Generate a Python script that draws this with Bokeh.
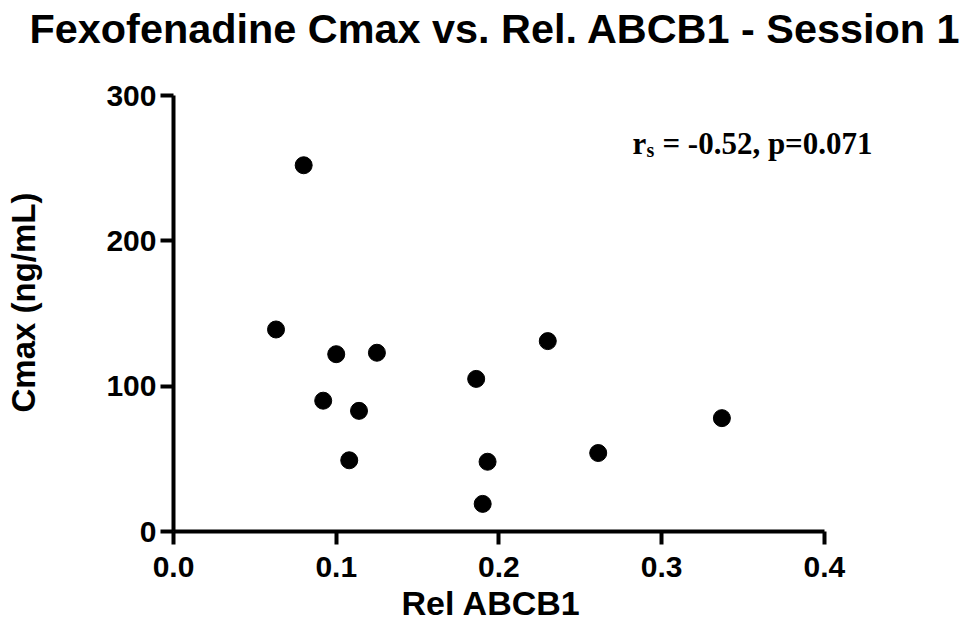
from bokeh.plotting import figure
from bokeh.models import Range1d, FixedTicker, PrintfTickFormatter, Label, Title
from bokeh.embed import file_html
from bokeh.resources import INLINE

# Data
rel_abcb1 = [0.063, 0.080, 0.100, 0.092, 0.114, 0.108, 0.125, 0.186, 0.193, 0.190, 0.230, 0.261, 0.337]
cmax = [139, 252, 122, 90, 83, 49, 123, 105, 48, 19, 131, 54, 78]

x_ticks = [0.0, 0.1, 0.2, 0.3, 0.4]
y_ticks = [0, 100, 200, 300]

title_text = "Fexofenadine Cmax vs. Rel. ABCB1 - Session 1"
x_label = "Rel ABCB1"
y_label = "Cmax (ng/mL)"
stat_r = "r"
stat_sub = "s"
stat_rest = "= -0.52, p=0.071"

p = figure(width=967, height=631, output_backend="svg", toolbar_location=None,
           x_range=Range1d(0, 0.44), y_range=Range1d(0, 300),
           min_border_left=173, min_border_right=78, min_border_top=95, min_border_bottom=100)

# spacer between title and plot area
p.add_layout(Title(text=" ", text_font_size="10px", standoff=31), "above")

p.title.text = title_text
p.title.text_font = "Liberation Sans"
p.title.text_font_style = "bold"
p.title.text_font_size = "41.4px"
p.title.text_color = "black"
p.title.align = "left"
p.title.offset = -144
p.title.standoff = 0

p.outline_line_color = None
p.xgrid.visible = False
p.ygrid.visible = False
p.background_fill_color = "white"
p.border_fill_color = "white"

for ax in (p.xaxis[0], p.yaxis[0]):
    ax.axis_line_width = 4
    ax.axis_line_color = "black"
    ax.major_tick_line_width = 4
    ax.major_tick_line_color = "black"
    ax.major_tick_out = 13
    ax.major_tick_in = 0
    ax.minor_tick_line_color = None
    ax.major_label_text_font = "Liberation Sans"
    ax.major_label_text_font_style = "bold"
    ax.major_label_text_font_size = "30px"
    ax.major_label_text_color = "black"

p.xaxis[0].ticker = FixedTicker(ticks=x_ticks)
p.xaxis[0].formatter = PrintfTickFormatter(format="%.1f")
p.xaxis[0].bounds = (0, 0.4)
p.xaxis[0].major_label_standoff = 12

p.yaxis[0].ticker = FixedTicker(ticks=y_ticks)
p.yaxis[0].major_label_standoff = 4

# axis titles, positioned along the axis with an offset
label_style = dict(text_font="Liberation Sans", text_font_style="bold", text_color="black")
p.add_layout(Title(text=x_label, text_font_size="34px", align="left", offset=228,
                   vertical_align="top", standoff=8, **label_style), "below")
p.add_layout(Title(text=" ", text_font_size="10px", standoff=49), "left")
p.add_layout(Title(text=y_label, text_font_size="33px", align="left", offset=119,
                   standoff=0, **label_style), "left")

p.scatter(rel_abcb1, cmax, size=17, color="black")

lab_x = 0.282
lab_y = 267
common = dict(x=lab_x, y=lab_y, text_font="Liberation Serif", text_font_style="bold",
              text_color="black", text_baseline="alphabetic")
p.add_layout(Label(text=stat_r, text_font_size="31px", **common))
p.add_layout(Label(text=stat_sub, text_font_size="20px", x_offset=14, y_offset=-7, **common))
p.add_layout(Label(text=stat_rest, text_font_size="31px", x_offset=30, **common))

open("out.html", "w").write(file_html(p, INLINE))
